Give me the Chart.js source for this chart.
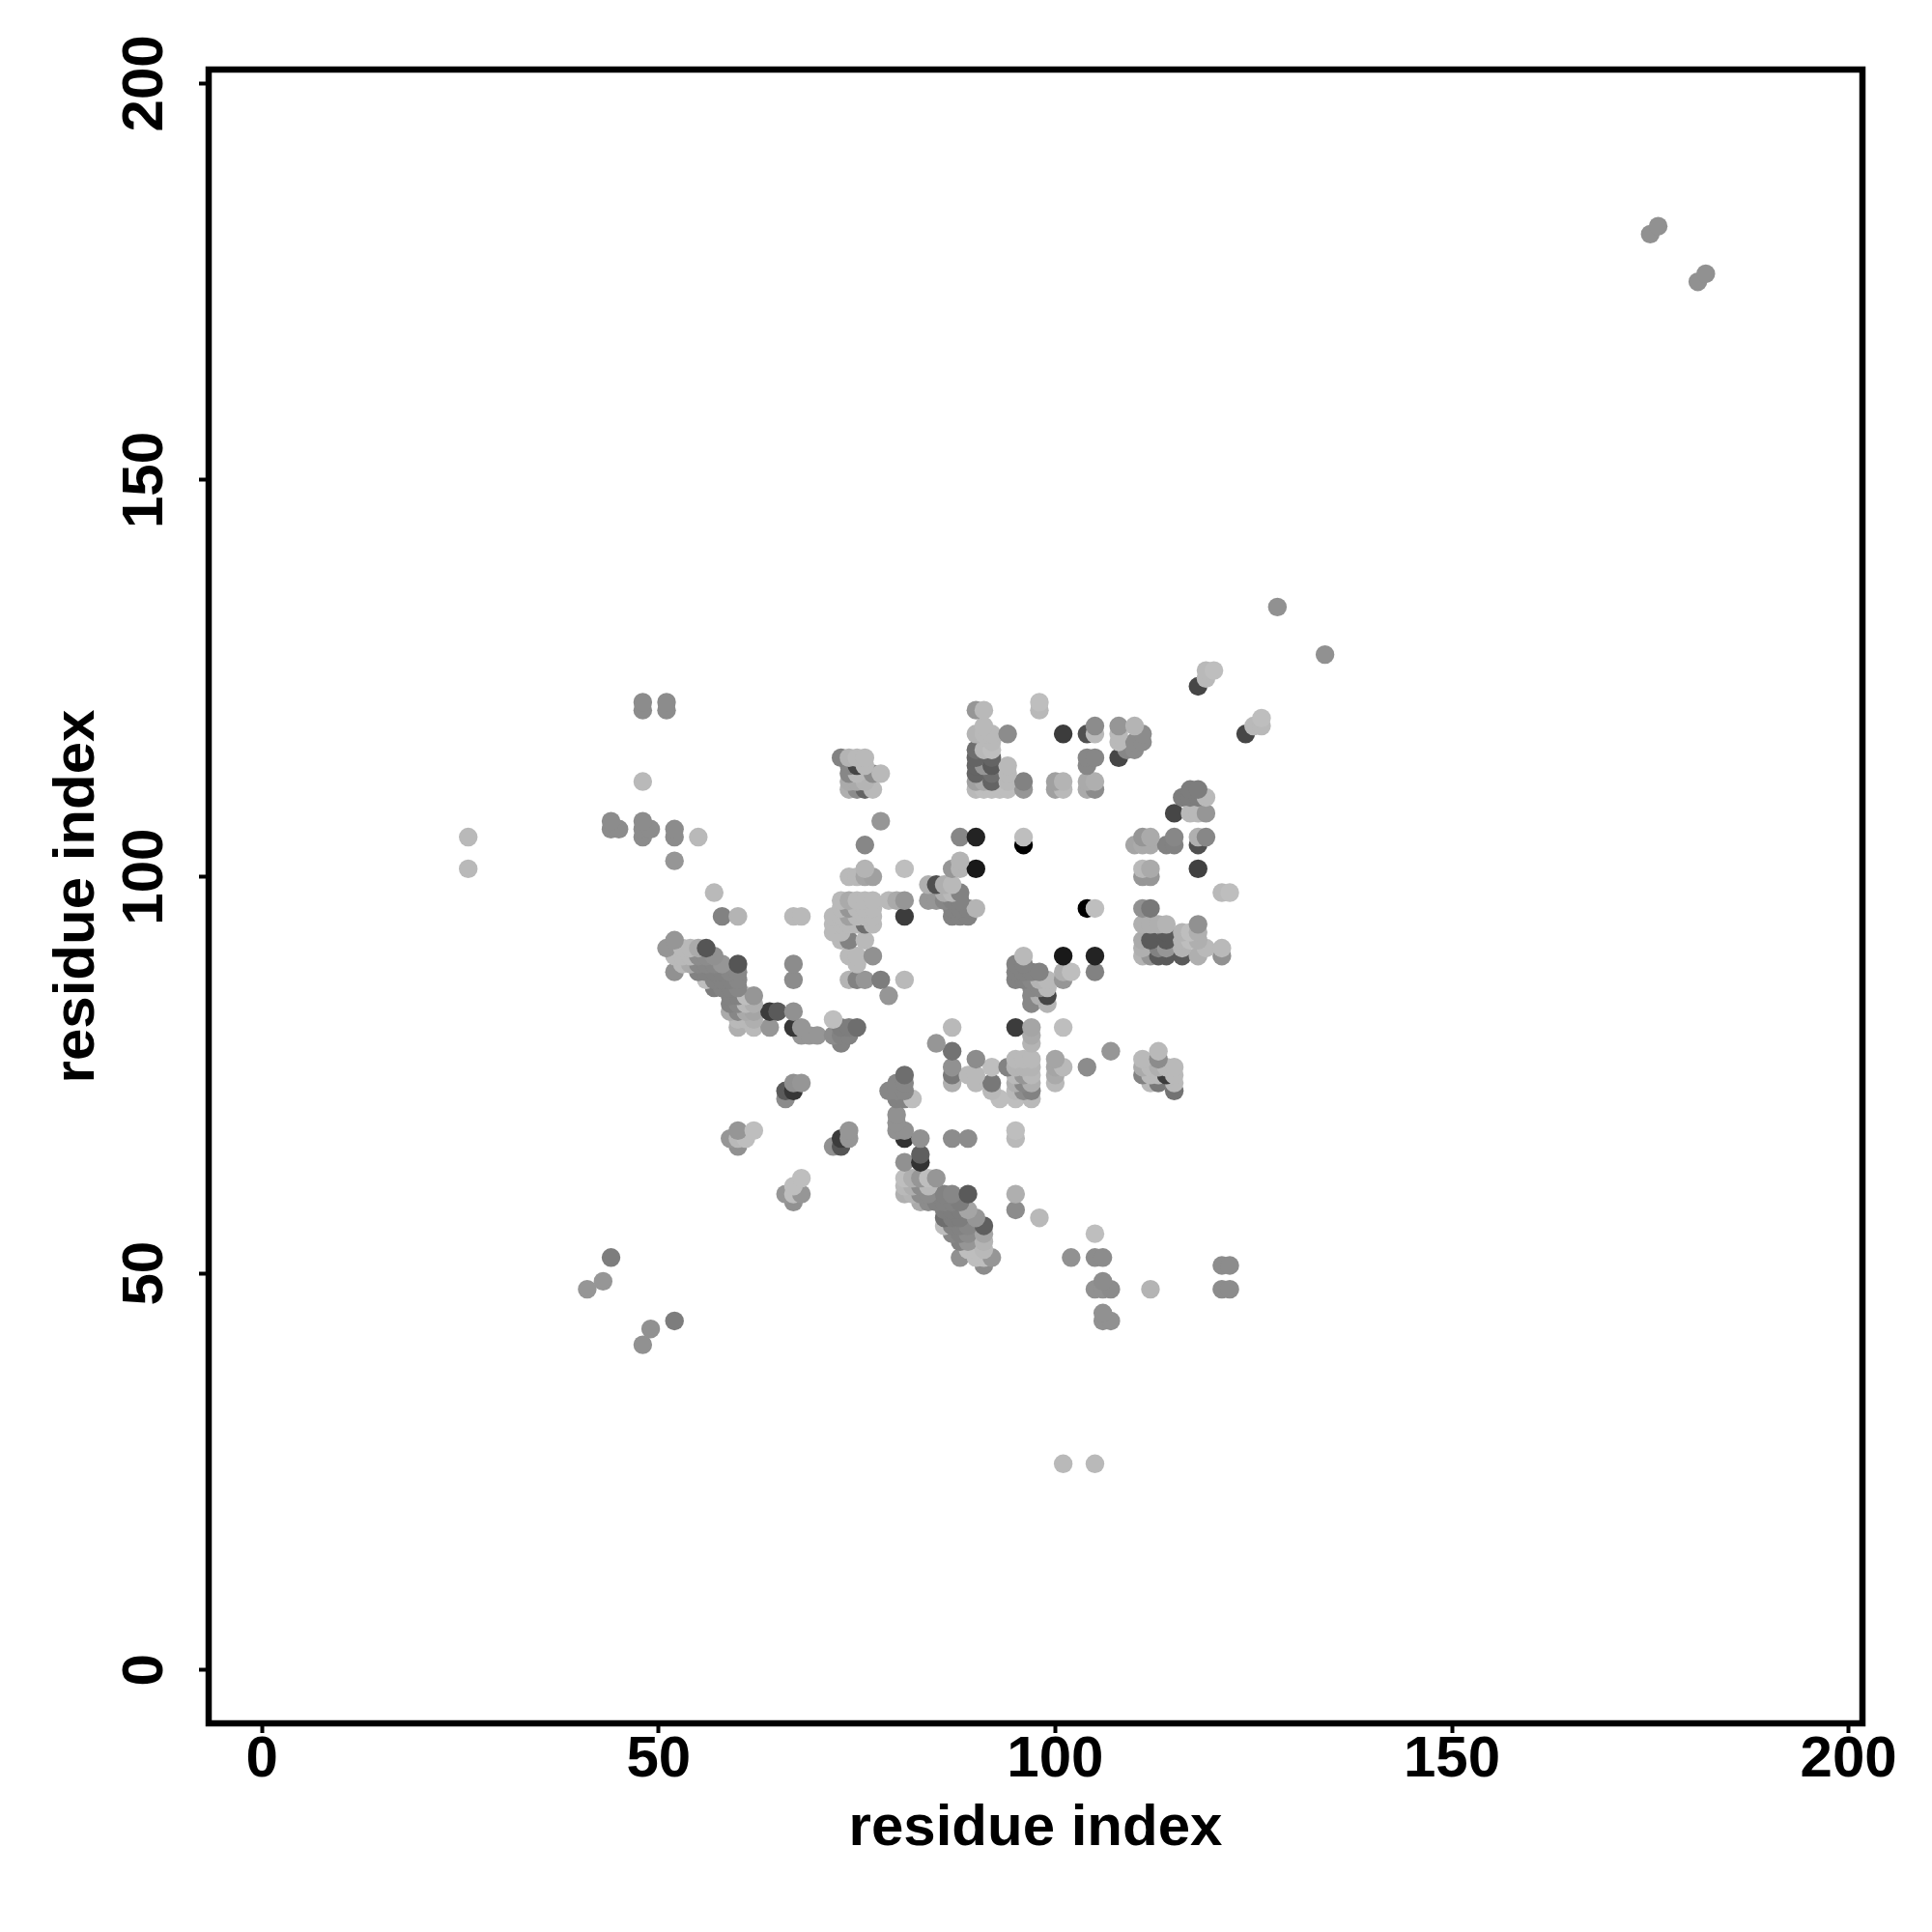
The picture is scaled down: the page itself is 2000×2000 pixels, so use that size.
<!DOCTYPE html>
<html>
<head>
<meta charset="utf-8">
<title>Residue contact map</title>
<script src="https://cdn.jsdelivr.net/npm/chart.js@4/dist/chart.umd.min.js"></script>
<style>
  html, body { margin: 0; padding: 0; background: #fff; }
  canvas { display: block; }
</style>
</head>
<body>
<canvas id="contactMap" width="2000" height="2000"></canvas>
<script>
const axisTitle = "residue index";
const tickValues = [0, 50, 100, 150, 200];

// one entry per residue row, bottom row first so upper rows paint on top
const rowY = [26, 41, 43, 44, 45, 48, 49, 51, 52, 53, 54, 55, 56, 57, 58, 59, 60, 61, 62, 64, 65, 66, 67, 68, 69, 70, 72, 73, 74, 75, 76, 77, 78, 79, 80, 81, 82, 83, 84, 85, 86, 87, 88, 89, 90, 91, 92, 93, 94, 95, 96, 97, 98, 99, 100, 101, 102, 104, 105, 106, 107, 108, 110, 111, 112, 113, 114, 115, 116, 117, 118, 119, 120, 121, 122, 124, 125, 126, 128, 134, 175, 176, 181, 182];

const rowX = [
  [101, 105],
  [48],
  [49],
  [52, 106, 107],
  [106],
  [41, 105, 106, 107, 112, 121, 122],
  [43, 106],
  [91, 121, 122],
  [44, 88, 90, 91, 92, 102, 105, 106],
  [89, 90, 91],
  [88, 89, 91],
  [87, 88, 89, 91, 105],
  [86, 87, 88, 89, 91],
  [86, 87, 88, 90, 98],
  [86, 87, 88, 89, 95],
  [67, 83, 84, 85, 86, 87, 88],
  [66, 67, 68, 81, 82, 83, 84, 86, 87, 89, 95],
  [67, 81, 82, 83, 84],
  [68, 81, 82, 83, 84, 85],
  [81, 83],
  [83],
  [60, 72, 73],
  [59, 60, 61, 73, 74, 81, 83, 87, 89, 95],
  [60, 62, 74, 80, 81, 95],
  [80],
  [80],
  [66, 80, 81, 82, 93, 95, 97],
  [66, 67, 79, 80, 81, 92, 95, 96, 97, 115],
  [67, 68, 80, 81, 87, 90, 92, 95, 96, 97, 100, 112, 113, 115],
  [81, 87, 89, 90, 95, 96, 97, 100, 111, 112, 113, 114, 115],
  [87, 92, 94, 95, 96, 97, 100, 101, 104, 111, 112, 113, 114, 115],
  [90, 95, 96, 97, 100, 111, 113],
  [87, 107, 113],
  [73, 85, 97],
  [68, 69, 70, 72, 73, 74, 97],
  [60, 62, 64, 67, 68, 73, 74, 75, 87, 95, 97, 101],
  [60, 61, 62, 72],
  [59, 60, 61, 62, 64, 65, 67],
  [59, 60, 61, 62, 97, 99],
  [59, 60, 61, 62, 79, 97, 98, 99],
  [57, 58, 59, 60, 97, 98, 99],
  [56, 57, 58, 59, 60, 67, 74, 75, 76, 78, 81, 95, 96, 97, 98, 99, 101],
  [52, 55, 56, 57, 58, 59, 60, 95, 96, 97, 98, 101, 102, 105],
  [53, 54, 55, 56, 57, 58, 60, 67, 75, 95, 96],
  [52, 53, 54, 55, 56, 57, 74, 75, 77, 96, 101, 105, 111, 112, 113, 114, 116, 118, 121],
  [51, 53, 54, 55, 56, 111, 113, 114, 116, 119, 121],
  [52, 73, 74, 76, 111, 112, 114, 116, 117, 118],
  [72, 73, 114, 116, 117, 118],
  [72, 73, 74, 75, 76, 77, 111, 112, 113, 114, 118],
  [58, 60, 67, 68, 72, 73, 74, 75, 76, 77, 81, 87, 88, 89],
  [73, 74, 75, 76, 77, 87, 88, 89, 90, 104, 105, 111, 112],
  [73, 74, 75, 76, 77, 79, 80, 81, 84, 85, 86, 87, 88],
  [57, 86, 87, 88, 121, 122],
  [84, 85, 86, 87],
  [74, 75, 76, 77, 111, 112],
  [26, 76, 81, 87, 88, 90, 111, 112, 118],
  [52, 88],
  [76, 96, 110, 111, 112, 114, 115, 118],
  [26, 48, 52, 55, 88, 90, 96, 111, 112, 115, 118, 119],
  [44, 45, 48, 49, 52],
  [44, 48, 78],
  [115, 117, 118, 119],
  [116, 117, 118, 119],
  [74, 75, 76, 77, 90, 91, 92, 93, 94, 96, 100, 101, 104, 105, 117, 118],
  [48, 74, 75, 76, 90, 91, 92, 94, 96, 100, 101, 104, 105],
  [74, 75, 77, 78, 90, 92, 94],
  [74, 75, 76, 90, 91, 92, 94, 104],
  [73, 74, 75, 76, 90, 92, 104, 105, 108],
  [90, 91, 92, 109, 110],
  [92, 108, 110, 111],
  [90, 91, 92, 94, 101, 104, 105, 108, 111, 124],
  [91, 105, 108, 110, 125, 126],
  [126],
  [48, 51, 90, 91, 98],
  [48, 51, 98],
  [118],
  [119],
  [119, 120],
  [134],
  [128],
  [181],
  [182],
  [175],
  [176]
];

// grey level of each mark, same layout as rowX
const rowGray = [
  [185, 185],
  [145],
  [145],
  [125, 145, 145],
  [145],
  [150, 145, 145, 140, 180, 140, 140],
  [150, 140],
  [140, 140, 140],
  [125, 145, 190, 190, 150, 145, 140, 140],
  [190, 190, 185],
  [130, 150, 180],
  [135, 130, 140, 165, 190],
  [190, 130, 130, 135, 95],
  [110, 125, 125, 150, 185],
  [125, 125, 125, 165, 140],
  [145, 170, 140, 130, 130, 130, 125],
  [150, 190, 150, 175, 180, 140, 140, 130, 135, 90, 175],
  [190, 185, 175, 140, 185],
  [190, 190, 175, 150, 190, 150],
  [145, 50],
  [95],
  [145, 145, 85],
  [150, 185, 190, 60, 150, 50, 145, 140, 140, 185],
  [150, 190, 150, 145, 145, 190],
  [145],
  [145],
  [140, 130, 130, 190, 190, 190, 185],
  [90, 55, 135, 135, 135, 185, 185, 140, 130, 115],
  [145, 150, 135, 135, 175, 185, 120, 175, 135, 175, 185, 185, 120, 185],
  [110, 120, 185, 185, 185, 150, 185, 170, 130, 185, 185, 60, 185],
  [145, 190, 130, 180, 180, 180, 165, 185, 140, 170, 185, 175, 185, 185],
  [140, 185, 185, 185, 165, 185, 140],
  [115, 150, 185],
  [130, 150, 180],
  [150, 150, 150, 140, 130, 130, 170],
  [175, 185, 150, 55, 150, 125, 125, 110, 185, 60, 165, 190],
  [185, 185, 175, 190],
  [170, 135, 170, 165, 60, 90, 145],
  [130, 135, 185, 175, 135, 180],
  [130, 130, 190, 150, 150, 135, 175, 70],
  [125, 130, 130, 135, 135, 135, 185],
  [190, 130, 130, 130, 135, 140, 180, 130, 150, 125, 185, 130, 130, 135, 180, 185, 150],
  [145, 130, 130, 130, 130, 135, 135, 130, 130, 130, 130, 175, 190, 130],
  [185, 170, 135, 135, 135, 150, 85, 140, 185, 130, 130],
  [185, 185, 185, 140, 140, 145, 185, 185, 145, 185, 25, 35, 180, 150, 90, 90, 90, 175, 145],
  [150, 185, 185, 170, 85, 175, 130, 150, 180, 185, 185],
  [150, 185, 130, 185, 170, 90, 90, 180, 190, 175],
  [185, 185, 90, 180, 190, 175],
  [185, 185, 185, 185, 110, 185, 175, 175, 175, 180, 145],
  [130, 180, 185, 185, 185, 185, 160, 185, 185, 185, 60, 130, 130, 130],
  [185, 150, 185, 185, 185, 130, 130, 130, 180, 0, 190, 145, 120],
  [185, 170, 185, 185, 185, 185, 170, 150, 150, 150, 135, 130, 130],
  [185, 175, 185, 130, 185, 190],
  [175, 80, 175, 185],
  [185, 185, 165, 160, 150, 150],
  [185, 180, 190, 150, 180, 25, 185, 170, 65],
  [150, 180],
  [135, 0, 165, 170, 170, 130, 130, 80],
  [185, 140, 140, 185, 135, 35, 190, 150, 170, 135, 175, 135],
  [140, 140, 140, 140, 140],
  [140, 140, 150],
  [70, 185, 185, 150],
  [125, 125, 125, 185],
  [175, 140, 100, 185, 185, 190, 190, 190, 190, 150, 160, 185, 170, 140, 125, 125],
  [185, 170, 170, 180, 160, 170, 100, 185, 130, 160, 180, 170, 175],
  [135, 185, 140, 185, 100, 110, 185],
  [135, 70, 185, 100, 150, 90, 185, 135],
  [130, 180, 185, 185, 100, 100, 135, 135, 70],
  [110, 185, 190, 135, 140],
  [185, 185, 140, 140],
  [180, 185, 185, 140, 60, 80, 185, 185, 140, 70],
  [185, 140, 150, 180, 185, 185],
  [190],
  [140, 140, 150, 185, 185],
  [140, 140, 190],
  [70],
  [185],
  [185, 190],
  [145],
  [145],
  [145],
  [145],
  [145],
  [145]
];

const contacts = rowY.flatMap((y, i) => rowX[i].map((x) => ({ x, y })));
const shades = rowGray.flat().map((g) => `rgb(${g},${g},${g})`);

const boxFrame = {
  id: "boxFrame",
  afterDraw(chart) {
    const { ctx, chartArea } = chart;
    ctx.save();
    ctx.strokeStyle = "#000";
    ctx.lineWidth = 6.5;
    ctx.strokeRect(chartArea.left, chartArea.top, chartArea.width, chartArea.height);
    ctx.restore();
  }
};

function residueAxis(extra) {
  return {
    type: "linear",
    min: -6.72,
    max: 201.75,
    afterBuildTicks: (axis) => {
      axis.ticks = tickValues.map((value) => ({ value }));
    },
    border: { display: false },
    grid: {
      drawOnChartArea: false,
      drawTicks: true,
      tickLength: 10,
      tickWidth: 4,
      tickColor: "#000"
    },
    ...extra
  };
}

const tickFont = { family: "'Liberation Sans', Arial, sans-serif", size: 60, weight: "bold" };

new Chart(document.querySelector("#contactMap"), {
  type: "scatter",
  data: {
    datasets: [{
      data: contacts,
      pointBackgroundColor: shades,
      pointBorderWidth: 0,
      pointRadius: 9.7,
      pointHoverRadius: 9.7
    }]
  },
  options: {
    responsive: false,
    animation: false,
    devicePixelRatio: 1,
    layout: { padding: { top: 72, right: 72, left: 0, bottom: 0 } },
    plugins: { legend: { display: false }, tooltip: { enabled: false } },
    scales: {
      x: residueAxis({
        afterFit: (axis) => { axis.height = 216; },
        ticks: {
          autoSkip: false,
          maxRotation: 0,
          color: "#000",
          padding: -8,
          font: tickFont
        },
        title: {
          display: true,
          text: axisTitle,
          color: "#000",
          font: tickFont,
          padding: { top: 0, bottom: 71 }
        }
      }),
      y: residueAxis({
        afterFit: (axis) => { axis.width = 216; },
        ticks: {
          autoSkip: false,
          minRotation: 90,
          maxRotation: 90,
          crossAlign: "center",
          color: "#000",
          padding: 4,
          font: tickFont
        },
        title: {
          display: true,
          text: axisTitle,
          color: "#000",
          font: tickFont,
          padding: { top: 44, bottom: 0 }
        }
      })
    }
  },
  plugins: [boxFrame]
});
</script>
</body>
</html>
